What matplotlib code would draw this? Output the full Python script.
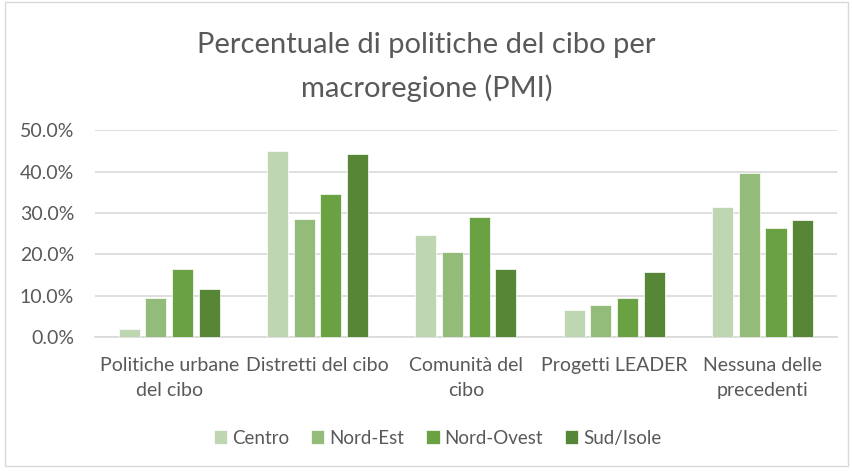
import numpy as np
import matplotlib.pyplot as plt
from matplotlib.patches import Rectangle
from matplotlib.ticker import FuncFormatter

categories = ["Politiche urbane\ndel cibo", "Distretti del cibo", "Comunità del\ncibo",
              "Progetti LEADER", "Nessuna delle\nprecedenti"]
regions = ["Centro", "Nord-Est", "Nord-Ovest", "Sud/Isole"]
centro = [2.1, 44.9, 24.6, 6.6, 31.4]
nord_est = [9.4, 28.6, 20.5, 7.8, 39.7]
nord_ovest = [16.6, 34.6, 29.1, 9.6, 26.3]
sud_isole = [11.6, 44.2, 16.4, 15.8, 28.3]
yticks = [0, 10, 20, 30, 40, 50]

colors = ["#BFD6B2", "#93BC7A", "#6AA142", "#568636"]
text_gray = "#595959"
plt.rcParams['font.family'] = ['Lato', 'DejaVu Sans']

fig = plt.figure(figsize=(8.53, 4.71), dpi=100)
ax = fig.add_axes([0.1114, 0.2839, 0.8696, 0.4395])

x = np.arange(len(categories))
width = 0.142
step = 0.18
series = [centro, nord_est, nord_ovest, sud_isole]
for i, (name, vals) in enumerate(zip(regions, series)):
    offs = (i - 1.5) * step
    ax.bar(x + offs, np.array(vals) / 100, width, color=colors[i], label=name,
           edgecolor="white", linewidth=0.5, zorder=3)

ax.set_xlim(-0.5, len(categories) - 0.5)
ax.set_ylim(0, 0.5)
ax.set_yticks(np.array(yticks) / 100)
ax.yaxis.set_major_formatter(FuncFormatter(lambda v, p: f"{v*100:.1f}%"))
ax.grid(axis="y", color="#D9D9D9", linewidth=1.2, zorder=0)
ax.set_xticks(x)
ax.set_xticklabels(categories, fontsize=14, color=text_gray, linespacing=1.6)
ax.tick_params(axis="y", length=0, pad=15, labelsize=14, labelcolor=text_gray)
ax.tick_params(axis="x", length=0, pad=14)
for s in ["top", "right", "left"]:
    ax.spines[s].set_visible(False)
ax.spines["bottom"].set_color("#D9D9D9")
ax.spines["bottom"].set_linewidth(1.2)

fig.text(0.5, 0.904, "Percentuale di politiche del cibo per", ha="center", va="center",
         fontsize=21, color=text_gray)
fig.text(0.5, 0.813, "macroregione (PMI)", ha="center", va="center",
         fontsize=21, color=text_gray)

fig.legend(loc="center", bbox_to_anchor=(0.513, 0.07), ncol=4, frameon=False,
           fontsize=13.5, labelcolor=text_gray, handlelength=0.7, handleheight=0.7,
           handletextpad=0.25, columnspacing=1.2)

fig.patches.append(Rectangle((5 / 853, 5 / 471), 843 / 853, 464 / 471, transform=fig.transFigure,
                             fill=False, edgecolor="#D9D9D9", linewidth=1))

fig.savefig("out.png", dpi=100)
